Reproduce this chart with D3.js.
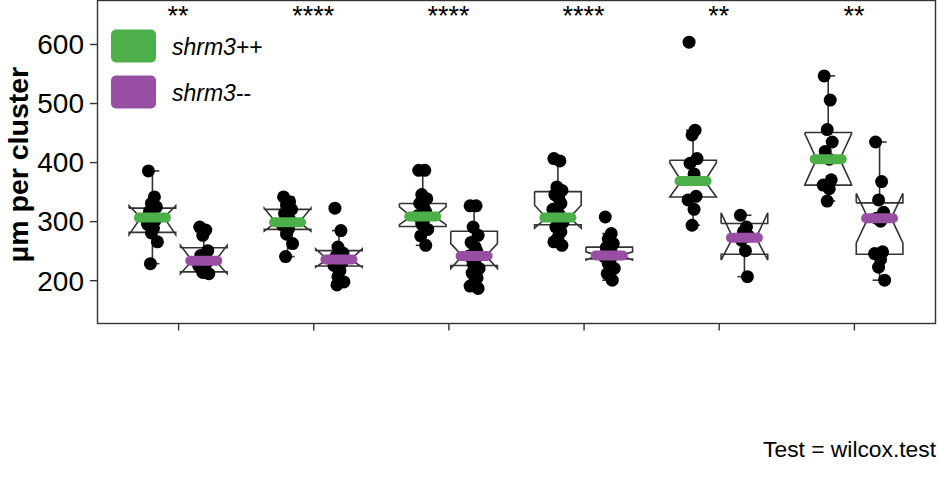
<!DOCTYPE html>
<html>
<head>
<meta charset="utf-8">
<script src="https://cdn.jsdelivr.net/npm/d3@7"></script>
<style>
    body { margin: 0; background: #fff; }
    #chart { width: 938px; height: 494px; }
    text { font-family: "Liberation Sans", Arial, sans-serif; }
</style>
</head>
<body>
<div id="chart"></div>
<script>
// values
const groups = [1, 2, 3, 4, 5, 6];
const genotypes = ['shrm3++', 'shrm3--'];
const signifLabels = ['**', '****', '****', '****', '**', '**'];
const yTicks = [200, 300, 400, 500, 600];

// shrm3++ box stats
const wtQ1 = [281, 286, 291, 294, 341, 361];
const wtMedian = [306, 298, 308, 306, 368, 405];
const wtQ3 = [322, 320, 330, 350, 403, 450];
const wtLow = [228, 240, 259, 259, 293, 334];
const wtHigh = [385, 341, 386, 406, 454, 546];
const wtNotchLow = [277, 283, 294, 288, 341, 362];
const wtNotchHigh = [326, 322, 324, 327, 399, 448];

// shrm3-- box stats
const mutQ1 = [214, 224, 225, 236, 244, 244];
const mutMedian = [233, 235, 241, 242, 272, 305];
const mutQ3 = [255, 250, 283, 256, 296, 331];
const mutLow = [210, 192, 186, 200, 206, 200];
const mutHigh = [290, 284, 326, 279, 310, 434];
const mutNotchLow = [211, 222, 220, 234, 234, 263];
const mutNotchHigh = [259, 253, 262, 248, 314, 347];

// individual clusters
const wtPoints = [
    [385, 341, 330, 324, 316, 309, 302, 295, 288, 280, 265, 228],
    [341, 333, 327, 320, 313, 306, 300, 293, 287, 278, 262, 240],
    [386, 386, 345, 338, 330, 323, 316, 309, 302, 295, 286, 275, 259],
    [406, 402, 358, 352, 345, 338, 330, 320, 312, 305, 298, 290, 282, 272, 265, 259],
    [603, 454, 446, 406, 398, 380, 342, 336, 320, 293],
    [546, 505, 455, 434, 418, 405, 370, 361, 355, 334]
];
const mutPoints = [
    [290, 285, 276, 250, 242, 236, 230, 224, 218, 213, 211],
    [322, 284, 256, 246, 240, 236, 230, 225, 216, 206, 197, 192],
    [326, 326, 290, 276, 264, 256, 248, 241, 235, 228, 220, 212, 204, 196, 190, 186],
    [307, 279, 270, 262, 255, 249, 244, 240, 235, 228, 220, 211, 200],
    [310, 290, 282, 275, 268, 250, 206],
    [434, 367, 336, 315, 305, 300, 248, 245, 235, 222, 200]
];

const colors = { 'shrm3++': '#4DAF4A', 'shrm3--': '#984EA3' };
const jitter = [-4, 2, -1, 4, -3, 1, 3, -5, 1, -1, 5, -2, 3, 0, -4, 4];

function drawChart() {
    const width = 938, height = 494;
    const panel = { left: 97, right: 935, top: 0, bottom: 323 };

    const svg = d3.select('#chart').append('svg')
        .attr('width', width)
        .attr('height', height);

    const x = d3.scaleLinear().domain([0.4, 6.6]).range([panel.left, panel.right]);
    const y = d3.scaleLinear().domain([127.5, 674.5]).range([panel.bottom, panel.top]);

    const step = x(2) - x(1);
    const dodge = step * 0.19;
    const boxW = step * 0.345;
    const ink = '#333333';

    const stats = [
        { geno: genotypes[0], q1: wtQ1, med: wtMedian, q3: wtQ3, lo: wtLow, hi: wtHigh, nlo: wtNotchLow, nhi: wtNotchHigh, pts: wtPoints, side: -1 },
        { geno: genotypes[1], q1: mutQ1, med: mutMedian, q3: mutQ3, lo: mutLow, hi: mutHigh, nlo: mutNotchLow, nhi: mutNotchHigh, pts: mutPoints, side: 1 }
    ];

    const boxes = [];
    stats.forEach(s => {
        groups.forEach((g, i) => {
            boxes.push({
                geno: s.geno, cx: x(g) + s.side * dodge,
                q1: s.q1[i], med: s.med[i], q3: s.q3[i], lo: s.lo[i], hi: s.hi[i],
                nlo: s.nlo[i], nhi: s.nhi[i], pts: s.pts[i]
            });
        });
    });

    const plot = svg.append('g');

    // whiskers + caps
    boxes.forEach(b => {
        const w = plot.append('g').attr('stroke', ink).attr('stroke-width', 1.6);
        w.append('line').attr('x1', b.cx).attr('x2', b.cx).attr('y1', y(b.q3)).attr('y2', y(b.hi));
        w.append('line').attr('x1', b.cx).attr('x2', b.cx).attr('y1', y(b.q1)).attr('y2', y(b.lo));
        [b.hi, b.lo].forEach(v => {
            w.append('line').attr('x1', b.cx - 7).attr('x2', b.cx + 7).attr('y1', y(v)).attr('y2', y(v));
        });
    });

    // notched boxes, drawn like ggplot's crossbar polygon
    boxes.forEach(b => {
        const x0 = b.cx - boxW / 2, x1 = b.cx + boxW / 2;
        const indent = boxW * 0.25;
        const pts = [
            [x0, b.q3], [x0, b.nhi], [x0 + indent, b.med], [x0, b.nlo], [x0, b.q1],
            [x1, b.q1], [x1, b.nlo], [x1 - indent, b.med], [x1, b.nhi], [x1, b.q3], [x0, b.q3]
        ];
        plot.append('path')
            .attr('d', d3.line().x(p => p[0]).y(p => y(p[1]))(pts))
            .attr('fill', 'white')
            .attr('stroke', ink)
            .attr('stroke-width', 1.6)
            .attr('stroke-linejoin', 'miter');
    });

    // jittered points
    boxes.forEach(b => {
        plot.selectAll(null)
            .data(b.pts)
            .enter()
            .append('circle')
            .attr('cx', (d, i) => b.cx + jitter[i % jitter.length])
            .attr('cy', d => y(d))
            .attr('r', 6.5)
            .attr('fill', 'black');
    });

    // median bars on top
    boxes.forEach(b => {
        plot.append('line')
            .attr('x1', b.cx - 13.5).attr('x2', b.cx + 13.5)
            .attr('y1', y(b.med)).attr('y2', y(b.med))
            .attr('stroke', colors[b.geno])
            .attr('stroke-width', 10)
            .attr('stroke-linecap', 'round');
    });

    // panel border
    svg.append('rect')
        .attr('x', panel.left + 0.5)
        .attr('y', panel.top + 0.5)
        .attr('width', panel.right - panel.left)
        .attr('height', panel.bottom - panel.top)
        .attr('fill', 'none')
        .attr('stroke', ink)
        .attr('stroke-width', 1.4);

    // axes
    const yAxis = svg.append('g')
        .attr('transform', `translate(${panel.left},0)`)
        .call(d3.axisLeft(y).tickValues(yTicks).tickSize(7).tickPadding(6));
    yAxis.select('.domain').remove();
    yAxis.selectAll('line').attr('stroke', ink).attr('stroke-width', 1.4);
    yAxis.selectAll('text')
        .attr('fill', 'black')
        .attr('font-size', '28px')
        .attr('dy', '0.35em')
        .style('font-family', '"Liberation Sans", Arial, sans-serif');

    const xAxis = svg.append('g')
        .attr('transform', `translate(0,${panel.bottom + 0.5})`)
        .call(d3.axisBottom(x).tickValues(groups).tickSize(7).tickFormat(''));
    xAxis.select('.domain').remove();
    xAxis.selectAll('line').attr('stroke', ink).attr('stroke-width', 1.4);

    svg.append('text')
        .attr('transform', `translate(28,${(panel.top + panel.bottom) / 2 + 3}) rotate(-90)`)
        .attr('text-anchor', 'middle')
        .attr('font-size', '28.5px')
        .attr('font-weight', 'bold')
        .attr('fill', 'black')
        .text('µm per cluster');

    // significance stars
    svg.selectAll('.signif')
        .data(groups)
        .enter()
        .append('text')
        .attr('class', 'signif')
        .attr('x', d => x(d))
        .attr('y', 25)
        .attr('text-anchor', 'middle')
        .attr('font-size', '27px')
        .attr('fill', 'black')
        .text((d, i) => signifLabels[i]);

    // legend
    const legend = svg.append('g');
    genotypes.forEach((gt, i) => {
        const row = legend.append('g').attr('transform', `translate(111,${29.5 + i * 46})`);
        row.append('rect')
            .attr('width', 45).attr('height', 33).attr('rx', 5)
            .attr('fill', colors[gt]);
        const label = row.append('text')
            .attr('x', 61).attr('y', 25)
            .attr('font-size', '23px')
            .attr('fill', 'black');
        label.append('tspan').attr('font-style', 'italic').text(gt.slice(0, 5));
        label.append('tspan').text(gt.slice(5));
    });

    // caption
    svg.append('text')
        .attr('x', 936)
        .attr('y', 457)
        .attr('text-anchor', 'end')
        .attr('font-size', '22.8px')
        .attr('fill', 'black')
        .text('Test = wilcox.test');
}

drawChart();
</script>
</body>
</html>
